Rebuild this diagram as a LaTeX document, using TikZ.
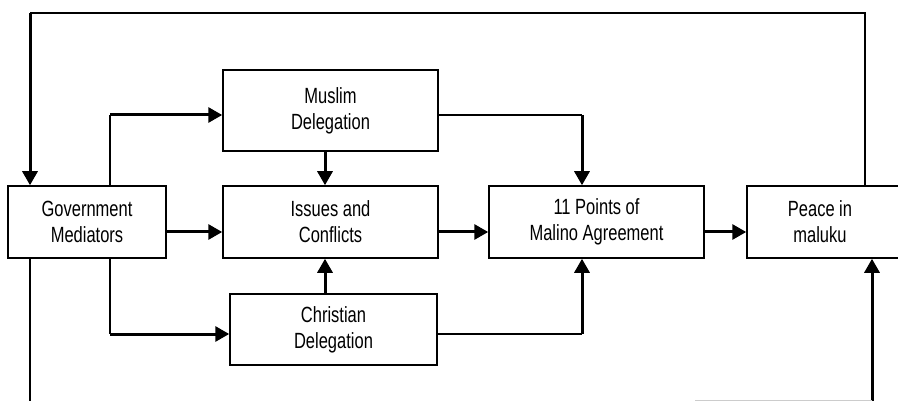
\documentclass[tikz,border=0pt]{standalone}
\usepackage{fontspec}
\setmainfont[FakeStretch=0.75]{Liberation Sans}
\usetikzlibrary{arrows.meta,calc}
\begin{document}
\begin{tikzpicture}[x=1pt,y=-1pt,
  box/.style={draw,line width=1.5pt,rectangle,inner sep=0pt,align=center,
    font=\fontsize{22pt}{26pt}\selectfont},
  thin/.style={line width=1.6pt},
  thick/.style={line width=3pt},
  arr/.style={line width=3pt,-{Triangle[length=14pt,width=15pt]}}]
\useasboundingbox (0,0) rectangle (898,401);
\clip (0,0) rectangle (898,401);
% boxes
\node[box,minimum width=158pt,minimum height=72pt] (gov) at (87,222) {Government\\Mediators};
\node[box,minimum width=215pt,minimum height=81pt] (muslim) at (330.5,110.5) {Muslim\\Delegation};
\node[box,minimum width=215pt,minimum height=72pt] (issues) at (330.5,222) {Issues and\\Conflicts};
\node[box,minimum width=207pt,minimum height=71pt] (christian) at (333.5,329.5) {Christian\\Delegation};
\node[box,minimum width=215pt,minimum height=72pt] (points) at (596.5,222) {11 Points of\\Malino Agreement};
\node[box,minimum width=158pt,minimum height=72pt] (peace) at (826,222) {};
\node[align=center,inner sep=0pt,font=\fontsize{22pt}{26pt}\selectfont] (peacetext) at (820,222) {Peace in\\maluku};
% helper coordinates
\coordinate (row) at (0,232);
\coordinate (gm) at (110,115);
\coordinate (gc) at (110,334);
\coordinate (mp) at (582,115);
\coordinate (cp) at (582,334);
\coordinate (mi) at (325,0);
\coordinate (top) at (0,13);
\coordinate (lx) at (30,0);
\coordinate (px) at (865,0);
\coordinate (pb) at (872,401);
\coordinate (gb) at (30,401);
\coordinate (fa) at (695,400);
% government to delegations
\draw[thin] (gov.north -| gm) -- (gm);
\draw[arr] (gm) -- (gm -| muslim.west);
\draw[thin] (gov.south -| gc) -- (gc);
\draw[arr] (gc) -- (gc -| christian.west);
% main row
\draw[arr] (gov.east |- row) -- (issues.west |- row);
\draw[arr] (issues.east |- row) -- (points.west |- row);
\draw[arr] (points.east |- row) -- (peace.west |- row);
% delegations to issues
\draw[arr] (muslim.south -| mi) -- (issues.north -| mi);
\draw[arr] (christian.north -| mi) -- (issues.south -| mi);
% delegations to points
\draw[thin] (muslim.east |- mp) -- (mp);
\draw[arr] (mp) -- (points.north -| mp);
\draw[thin] (christian.east |- cp) -- (cp);
\draw[arr] (cp) -- (points.south -| mp);
% feedback loop
\draw[thin] (peace.north -| px) -- (px |- top) -- (lx |- top);
\draw[arr] (lx |- top) -- (gov.north -| lx);
\draw[thin] (gov.south -| lx) -- (gb);
\draw[arr] (pb) -- (peace.south -| pb);
\draw[gray!40,line width=1pt] (fa) -- (pb |- fa);
\end{tikzpicture}
\end{document}
